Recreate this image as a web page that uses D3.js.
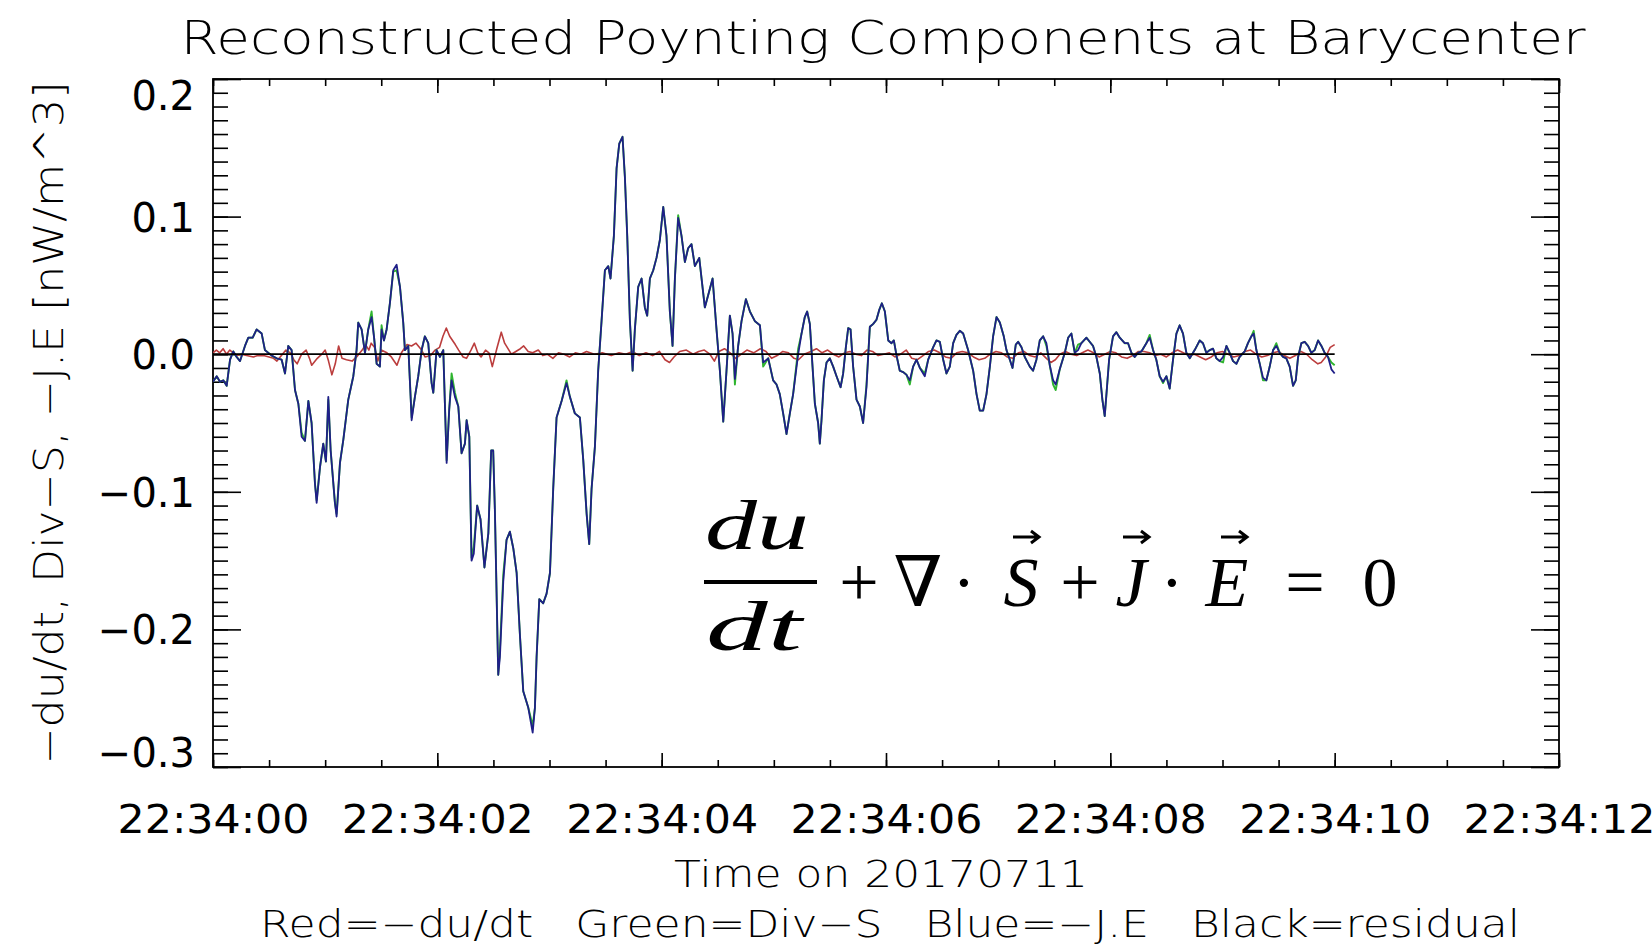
<!DOCTYPE html>
<html>
<head>
<meta charset="utf-8">
<script src="https://cdn.jsdelivr.net/npm/d3@7"></script>
<style>
  html, body { margin: 0; padding: 0; background: #fff; overflow: hidden; }
  svg { display: block; }
</style>
</head>
<body>
<svg id="chart" width="1652" height="947"></svg>
<script>
// Seconds after 22:34:00 UT on 2017-07-11
const sampleTimes = [
  0.000,0.033,0.062,0.092,0.122,0.152,0.181,0.211,0.241,0.285,0.315,0.354,0.389,0.434,0.463,0.493,0.523,0.567,0.612,0.642,
  0.671,0.701,0.731,0.761,0.790,0.820,0.850,0.879,0.909,0.924,0.954,0.983,1.007,1.028,1.049,1.087,1.102,1.132,1.162,1.206,
  1.251,1.280,1.295,1.325,1.355,1.384,1.414,1.435,1.459,1.488,1.503,1.524,1.548,1.577,1.607,1.637,1.667,1.696,1.711,1.741,
  1.771,1.800,1.830,1.860,1.889,1.919,1.949,1.964,1.993,2.023,2.053,2.083,2.106,2.127,2.157,2.187,2.216,2.246,2.261,2.285,
  2.305,2.325,2.355,2.385,2.420,2.455,2.480,2.498,2.513,2.543,2.558,2.588,2.617,2.647,2.677,2.707,2.737,2.766,2.811,2.850,
  2.870,2.885,2.909,2.944,2.974,3.004,3.033,3.063,3.108,3.152,3.182,3.226,3.271,3.301,3.331,3.354,3.375,3.405,3.434,3.464,
  3.494,3.524,3.544,3.574,3.598,3.622,3.651,3.672,3.693,3.717,3.741,3.761,3.791,3.821,3.850,3.871,3.895,3.925,3.954,3.984,
  4.014,4.043,4.073,4.097,4.118,4.147,4.177,4.207,4.236,4.266,4.296,4.335,4.364,4.385,4.415,4.454,4.489,4.519,4.549,4.578,
  4.608,4.632,4.653,4.682,4.712,4.751,4.787,4.831,4.876,4.905,4.950,4.994,5.024,5.053,5.083,5.113,5.143,5.172,5.217,5.247,
  5.276,5.297,5.321,5.345,5.366,5.395,5.410,5.425,5.446,5.470,5.499,5.529,5.559,5.595,5.618,5.642,5.663,5.684,5.707,5.737,
  5.767,5.796,5.826,5.856,5.886,5.915,5.939,5.963,5.990,6.020,6.049,6.070,6.094,6.123,6.153,6.183,6.212,6.242,6.272,6.302,
  6.346,6.376,6.420,6.450,6.480,6.510,6.539,6.569,6.599,6.628,6.658,6.688,6.732,6.777,6.807,6.836,6.866,6.896,6.926,6.955,
  6.985,7.015,7.050,7.074,7.104,7.128,7.157,7.178,7.208,7.237,7.282,7.311,7.341,7.371,7.401,7.430,7.460,7.490,7.513,7.549,
  7.594,7.624,7.653,7.683,7.712,7.742,7.787,7.816,7.846,7.876,7.906,7.929,7.950,7.971,7.989,8.024,8.054,8.084,8.128,8.158,
  8.188,8.217,8.247,8.277,8.321,8.351,8.381,8.410,8.440,8.470,8.500,8.529,8.559,8.589,8.618,8.648,8.678,8.708,8.752,8.797,
  8.826,8.856,8.886,8.916,8.945,8.975,9.005,9.035,9.064,9.094,9.124,9.153,9.198,9.227,9.257,9.278,9.302,9.332,9.361,9.391,
  9.421,9.451,9.480,9.510,9.540,9.569,9.599,9.629,9.653,9.674,9.703,9.733,9.763,9.792,9.822,9.852,9.882,9.911,9.941,9.971,
  10.000
];

// Blue = -J.E  [nW/m^3]
const blueJE = [
  -0.020,-0.016,-0.020,-0.019,-0.023,-0.004,0.002,-0.002,-0.005,0.006,0.012,0.012,0.018,0.015,0.003,0.001,-0.001,-0.003,-0.004,-0.014,
  0.006,0.003,-0.026,-0.036,-0.060,-0.063,-0.034,-0.050,-0.094,-0.108,-0.082,-0.065,-0.078,-0.031,-0.070,-0.108,-0.118,-0.079,-0.062,-0.033,
  -0.016,0.003,0.023,0.018,0.001,0.018,0.027,0.013,-0.007,-0.009,0.018,0.010,0.018,0.037,0.061,0.065,0.049,0.023,0.003,0.006,
  -0.048,-0.031,-0.016,0.003,0.013,0.008,-0.021,-0.028,0.003,-0.002,0.003,-0.079,-0.040,-0.019,-0.031,-0.038,-0.072,-0.065,-0.048,-0.060,
  -0.150,-0.145,-0.110,-0.120,-0.155,-0.130,-0.070,-0.070,-0.113,-0.233,-0.220,-0.165,-0.135,-0.129,-0.141,-0.159,-0.205,-0.245,-0.257,-0.275,
  -0.257,-0.220,-0.178,-0.181,-0.174,-0.159,-0.098,-0.046,-0.034,-0.021,-0.031,-0.043,-0.046,-0.077,-0.116,-0.138,-0.098,-0.067,-0.012,0.024,
  0.061,0.064,0.055,0.086,0.135,0.153,0.158,0.129,0.086,0.024,-0.012,0.018,0.049,0.055,0.034,0.028,0.055,0.061,0.070,0.083,
  0.107,0.086,0.031,0.006,0.055,0.099,0.086,0.067,0.077,0.080,0.064,0.070,0.049,0.034,0.043,0.055,0.018,-0.012,-0.049,-0.012,
  0.028,0.015,-0.018,0.006,0.024,0.040,0.031,0.024,0.021,-0.006,-0.003,-0.019,-0.022,-0.029,-0.043,-0.058,-0.043,-0.029,0.000,0.015,
  0.027,0.031,0.022,-0.009,-0.036,-0.050,-0.065,-0.048,-0.019,-0.006,-0.003,-0.009,-0.016,-0.024,-0.014,0.005,0.019,0.018,-0.009,-0.033,
  -0.038,-0.050,-0.024,0.020,0.022,0.025,0.032,0.037,0.031,0.010,0.008,0.010,-0.001,-0.012,-0.013,-0.015,-0.019,-0.009,-0.004,-0.010,
  -0.016,-0.004,0.005,0.010,0.009,-0.004,-0.014,-0.009,0.008,0.014,0.017,0.015,0.003,-0.012,-0.029,-0.041,-0.041,-0.029,-0.009,0.013,
  0.027,0.023,0.013,0.003,-0.004,-0.010,0.007,0.009,0.005,-0.002,-0.009,-0.012,-0.004,0.010,0.013,0.008,-0.008,-0.019,-0.022,-0.011,
  0.001,0.012,0.015,0.001,0.003,0.008,0.012,0.009,0.006,-0.002,-0.014,-0.033,-0.045,-0.023,-0.004,0.013,0.016,0.012,0.008,0.008,
  0.001,-0.002,0.001,0.002,0.008,0.012,0.003,-0.004,-0.016,-0.020,-0.016,-0.025,-0.004,0.015,0.021,0.015,0.001,-0.003,0.003,0.010,
  0.008,0.001,0.003,0.004,-0.003,-0.005,-0.002,0.006,0.001,-0.005,-0.007,-0.002,0.002,0.008,0.013,0.015,0.003,-0.007,-0.017,-0.019,
  -0.009,0.003,0.006,0.001,-0.002,-0.003,-0.009,-0.023,-0.019,-0.002,0.008,0.009,0.006,0.001,0.003,0.010,0.006,0.001,-0.002,-0.011,
  -0.014
];

// Green = Div-S  [nW/m^3]
const greenDivS = [
  -0.020,-0.016,-0.020,-0.019,-0.023,-0.004,0.002,-0.002,-0.005,0.006,0.012,0.012,0.018,0.015,0.003,0.001,-0.001,-0.003,-0.004,-0.014,
  0.006,0.003,-0.026,-0.036,-0.057,-0.063,-0.034,-0.050,-0.094,-0.106,-0.082,-0.065,-0.078,-0.033,-0.070,-0.108,-0.116,-0.079,-0.062,-0.033,
  -0.016,0.003,0.023,0.018,0.001,0.018,0.031,0.013,-0.007,-0.009,0.021,0.010,0.018,0.037,0.060,0.061,0.049,0.023,0.003,0.006,
  -0.046,-0.031,-0.016,0.003,0.013,0.008,-0.021,-0.028,0.003,-0.002,0.003,-0.077,-0.040,-0.014,-0.028,-0.038,-0.072,-0.065,-0.048,-0.060,
  -0.148,-0.140,-0.110,-0.120,-0.155,-0.130,-0.070,-0.070,-0.113,-0.233,-0.215,-0.160,-0.135,-0.129,-0.141,-0.159,-0.205,-0.245,-0.257,-0.270,
  -0.257,-0.220,-0.178,-0.181,-0.174,-0.159,-0.098,-0.046,-0.034,-0.019,-0.031,-0.043,-0.046,-0.077,-0.116,-0.138,-0.098,-0.067,-0.012,0.024,
  0.061,0.064,0.055,0.086,0.135,0.153,0.158,0.129,0.086,0.024,-0.012,0.018,0.049,0.055,0.034,0.028,0.055,0.061,0.070,0.083,
  0.107,0.086,0.031,0.006,0.055,0.101,0.086,0.067,0.077,0.080,0.064,0.070,0.049,0.034,0.043,0.055,0.018,-0.012,-0.049,-0.012,
  0.028,0.015,-0.022,0.006,0.024,0.040,0.031,0.024,0.021,-0.009,-0.003,-0.019,-0.022,-0.029,-0.043,-0.058,-0.043,-0.029,0.004,0.015,
  0.027,0.031,0.022,-0.009,-0.036,-0.050,-0.065,-0.048,-0.019,-0.006,-0.003,-0.009,-0.016,-0.024,-0.014,0.005,0.019,0.018,-0.009,-0.033,
  -0.038,-0.050,-0.022,0.020,0.022,0.025,0.032,0.037,0.031,0.010,0.008,0.010,-0.001,-0.012,-0.013,-0.015,-0.022,-0.009,-0.004,-0.010,
  -0.014,-0.004,0.005,0.010,0.009,-0.004,-0.014,-0.009,0.008,0.014,0.017,0.015,0.003,-0.012,-0.029,-0.041,-0.041,-0.029,-0.009,0.013,
  0.027,0.023,0.013,0.003,-0.004,-0.010,0.007,0.009,0.005,-0.002,-0.009,-0.012,-0.004,0.010,0.013,0.006,-0.008,-0.022,-0.026,-0.011,
  0.001,0.012,0.015,0.001,0.007,0.008,0.012,0.009,0.006,-0.002,-0.014,-0.033,-0.045,-0.023,-0.004,0.013,0.016,0.012,0.008,0.008,
  0.001,-0.002,0.001,0.002,0.008,0.014,0.003,-0.004,-0.016,-0.021,-0.016,-0.025,-0.004,0.015,0.021,0.015,0.001,-0.003,0.003,0.010,
  0.008,0.001,0.003,0.004,-0.003,-0.005,-0.006,0.006,0.001,-0.005,-0.007,-0.002,0.002,0.008,0.013,0.017,0.003,-0.007,-0.019,-0.019,
  -0.009,0.003,0.008,0.001,-0.002,-0.003,-0.009,-0.023,-0.019,-0.002,0.008,0.009,0.006,0.001,0.003,0.010,0.006,0.001,-0.002,-0.006,
  -0.008
];

// Red = -du/dt  [nW/m^3]
const redTimes = [
  0.00,0.03,0.06,0.09,0.12,0.15,0.18,0.21,0.25,0.30,0.36,0.40,0.45,0.50,0.54,0.57,0.61,0.65,0.69,0.72,
  0.75,0.79,0.83,0.86,0.88,0.93,0.97,1.00,1.03,1.06,1.09,1.12,1.15,1.19,1.24,1.28,1.33,1.36,1.39,1.41,
  1.44,1.47,1.50,1.55,1.59,1.64,1.68,1.73,1.77,1.81,1.86,1.89,1.94,1.98,2.02,2.05,2.08,2.11,2.16,2.19,
  2.23,2.26,2.30,2.33,2.36,2.39,2.43,2.46,2.49,2.53,2.57,2.60,2.63,2.66,2.70,2.74,2.77,2.81,2.85,2.90,
  2.94,2.98,3.03,3.08,3.13,3.18,3.23,3.28,3.33,3.40,3.47,3.55,3.62,3.68,3.74,3.80,3.86,3.92,3.98,4.03,
  4.07,4.11,4.16,4.22,4.28,4.33,4.38,4.43,4.47,4.51,4.56,4.61,4.66,4.71,4.76,4.82,4.88,4.93,4.98,5.03,
  5.08,5.13,5.18,5.22,5.27,5.33,5.38,5.43,5.48,5.53,5.58,5.63,5.68,5.73,5.78,5.83,5.88,5.93,5.98,6.03,
  6.08,6.13,6.18,6.23,6.28,6.33,6.38,6.43,6.48,6.53,6.58,6.63,6.68,6.73,6.78,6.83,6.88,6.93,6.98,7.03,
  7.08,7.13,7.18,7.23,7.28,7.33,7.38,7.43,7.47,7.51,7.55,7.60,7.65,7.70,7.75,7.80,7.85,7.90,7.95,8.00,
  8.05,8.10,8.15,8.20,8.25,8.30,8.35,8.40,8.45,8.50,8.55,8.60,8.65,8.70,8.75,8.80,8.85,8.90,8.95,9.00,
  9.05,9.10,9.15,9.20,9.25,9.30,9.35,9.40,9.45,9.50,9.55,9.60,9.65,9.70,9.75,9.80,9.85,9.88,9.92,9.96,
  10.00
];
const redDuDt = [
  0.001,0.003,0.001,0.004,0.000,0.003,0.001,-0.001,0.000,-0.001,-0.002,-0.001,-0.001,-0.002,-0.003,-0.005,-0.001,0.003,0.001,-0.004,
  -0.007,0.000,0.003,-0.003,-0.008,-0.003,0.000,0.003,-0.005,-0.015,-0.007,0.006,-0.003,-0.004,-0.005,-0.002,0.003,0.007,0.003,0.008,
  0.005,-0.005,0.003,0.001,-0.002,-0.008,0.001,0.007,0.006,0.008,0.003,-0.002,-0.001,0.003,0.005,0.013,0.019,0.013,0.007,0.003,
  -0.002,-0.003,0.003,0.008,0.001,-0.002,0.003,0.001,-0.009,0.004,0.016,0.008,0.004,0.000,0.002,0.004,0.006,0.002,0.001,0.003,
  -0.001,0.000,-0.003,0.001,0.000,-0.002,0.001,0.000,0.002,0.000,0.001,-0.001,0.001,0.000,0.002,-0.001,0.001,-0.001,0.002,-0.004,
  -0.006,-0.002,0.002,0.003,0.000,0.002,0.003,0.000,-0.005,0.002,0.004,0.001,-0.003,0.000,0.003,0.001,0.004,0.002,-0.003,-0.001,
  0.002,0.001,-0.003,-0.004,0.000,0.002,0.004,0.001,0.003,0.000,-0.002,0.001,0.002,0.000,-0.001,0.003,0.002,-0.001,0.000,0.001,
  -0.002,0.000,0.003,-0.003,-0.004,-0.001,0.002,0.003,0.001,-0.002,-0.003,0.001,0.002,0.001,-0.002,-0.004,-0.003,0.000,0.002,0.001,
  -0.002,-0.003,0.001,0.002,-0.001,-0.002,0.001,-0.003,-0.006,-0.004,0.000,0.002,0.000,-0.001,0.001,0.003,0.001,-0.002,0.000,0.002,
  0.001,-0.002,-0.003,-0.001,0.002,0.002,0.001,-0.001,0.000,-0.002,0.001,0.003,0.001,-0.001,0.000,-0.002,-0.004,-0.002,0.001,0.002,
  0.000,-0.002,-0.001,0.002,0.003,0.000,-0.002,-0.001,0.001,0.002,-0.001,-0.003,-0.001,0.002,0.000,-0.004,-0.007,-0.006,-0.002,0.005,
  0.007
];

// Black = residual
const residualTimes = [0, 2.5, 5, 7.5, 10];
const residual = [0, 0, 0, 0, 0];

const yTickValues = [-0.3, -0.2, -0.1, 0.0, 0.1, 0.2];
const xTickSeconds = [0, 2, 4, 6, 8, 10, 12];
const startTime = Date.UTC(2017, 6, 11, 22, 34, 0);

const titleText = "Reconstructed Poynting Components at Barycenter";
const yTitleText = "\u2212du/dt, Div\u2212S, \u2212J.E [nW/m^3]";
const xTitleText = "Time on 20170711";
const keyText = "Red=\u2212du/dt   Green=Div\u2212S   Blue=\u2212J.E   Black=residual";

// ---------------------------------------------------------------------------
const SANS = '"DejaVu Sans", "Liberation Sans", sans-serif';
const SERIF = '"Liberation Serif", "DejaVu Serif", serif';

const svg = d3.select("#chart");
const plot = { left: 213, right: 1559, top: 79, bottom: 767 };

const toDate = s => new Date(startTime + s * 1000);
const x = d3.scaleUtc().domain([toDate(0), toDate(12)]).range([plot.left, plot.right]);
const y = d3.scaleLinear().domain([-0.3, 0.2]).range([plot.bottom, plot.top]);

const majorX = xTickSeconds.map(toDate);
const minorX = x.ticks(d3.utcMillisecond.every(500));
const minorY = y.ticks(50);
const timeFmt = d3.utcFormat("%H:%M:%S");

function styleAxis(g) {
  g.select(".domain").remove();
  g.selectAll(".tick line").attr("stroke", "#000").attr("stroke-width", 1.6);
}

// bottom / top axes (ticks point into the box)
svg.append("g").attr("transform", `translate(0,${plot.bottom})`)
  .call(d3.axisBottom(x).tickValues(minorX).tickSize(-7).tickFormat(""))
  .call(styleAxis);
const xAxisG = svg.append("g").attr("transform", `translate(0,${plot.bottom})`)
  .call(d3.axisBottom(x).tickValues(majorX).tickSize(-14).tickFormat(timeFmt))
  .call(styleAxis);
xAxisG.selectAll(".tick text")
  .attr("y", 66).attr("dy", 0)
  .style("font-family", SANS)
  .style("font-size", "39px")
  .attr("textLength", 192).attr("lengthAdjust", "spacingAndGlyphs")
  .attr("fill", "#000");

svg.append("g").attr("transform", `translate(0,${plot.top})`)
  .call(d3.axisTop(x).tickValues(minorX).tickSize(-7).tickFormat(""))
  .call(styleAxis);
svg.append("g").attr("transform", `translate(0,${plot.top})`)
  .call(d3.axisTop(x).tickValues(majorX).tickSize(-14).tickFormat(""))
  .call(styleAxis);

// left / right axes
svg.append("g").attr("transform", `translate(${plot.left},0)`)
  .call(d3.axisLeft(y).tickValues(minorY).tickSize(-15).tickFormat(""))
  .call(styleAxis);
const yAxisG = svg.append("g").attr("transform", `translate(${plot.left},0)`)
  .call(d3.axisLeft(y).tickValues(yTickValues).tickSize(-28).tickFormat(d3.format(".1f")).tickPadding(18))
  .call(styleAxis);
const labelHalf = 15;
yAxisG.selectAll(".tick text")
  .style("font-family", SANS)
  .style("font-size", "40px")
  .attr("fill", "#000")
  .attr("dy", "0.36em")
  .attr("y", d => {
    const py = y(d);
    const cy = Math.max(plot.top + labelHalf + 1, Math.min(plot.bottom - labelHalf, py));
    return cy - py;
  });

svg.append("g").attr("transform", `translate(${plot.right},0)`)
  .call(d3.axisRight(y).tickValues(minorY).tickSize(-15).tickFormat(""))
  .call(styleAxis);
svg.append("g").attr("transform", `translate(${plot.right},0)`)
  .call(d3.axisRight(y).tickValues(yTickValues).tickSize(-28).tickFormat(""))
  .call(styleAxis);

// frame
svg.append("rect")
  .attr("x", plot.left).attr("y", plot.top)
  .attr("width", plot.right - plot.left).attr("height", plot.bottom - plot.top)
  .attr("fill", "none").attr("stroke", "#000").attr("stroke-width", 1.8);

// traces
svg.append("defs").append("clipPath").attr("id", "plotClip")
  .append("rect").attr("x", plot.left).attr("y", plot.top)
  .attr("width", plot.right - plot.left).attr("height", plot.bottom - plot.top);

const line = d3.line().x(d => x(toDate(d[0]))).y(d => y(d[1]));
const traces = svg.append("g").attr("clip-path", "url(#plotClip)")
  .attr("fill", "none").attr("stroke-linejoin", "round");

const series = [
  { t: redTimes, v: redDuDt, color: "#bb3d3d", w: 1.6 },
  { t: sampleTimes, v: greenDivS, color: "#2fb52f", w: 1.9 },
  { t: sampleTimes, v: blueJE, color: "#1f1f88", w: 1.8 },
  { t: residualTimes, v: residual, color: "#000000", w: 1.8 }
];
series.forEach(s => {
  traces.append("path")
    .datum(s.t.map((t, i) => [t, s.v[i]]))
    .attr("d", line)
    .attr("stroke", s.color)
    .attr("stroke-width", s.w);
});

// titles
function label(str, opts) {
  const t = svg.append("text")
    .attr("text-anchor", "middle")
    .style("font-family", SANS)
    .style("font-size", opts.size + "px")
    .style("font-weight", opts.weight || 400)
    .style("white-space", "pre")
    .attr("fill", "#000")
    .attr("textLength", opts.len).attr("lengthAdjust", "spacingAndGlyphs")
    .text(str);
  if (opts.transform) t.attr("transform", opts.transform);
  else t.attr("x", opts.x).attr("y", opts.y);
  return t;
}
label(titleText, { x: 883, y: 54, size: 47, weight: 200, len: 1405 });
label(yTitleText, { transform: "translate(63,423) rotate(-90)", size: 41, weight: 300, len: 683 });
label(xTitleText, { x: 881, y: 887, size: 38, weight: 300, len: 414 });
label(keyText, { x: 890, y: 937, size: 37, weight: 300, len: 1260 });

// Poynting theorem annotation
const eq = svg.append("g");
const eqBase = 606;
function eqText(str, cx, by, italic, len) {
  const t = eq.append("text").attr("x", cx).attr("y", by).attr("text-anchor", "middle")
    .style("font-family", SERIF).style("font-size", "70px")
    .style("font-style", italic ? "italic" : "normal")
    .attr("fill", "#000").text(str);
  if (len) t.attr("textLength", len).attr("lengthAdjust", "spacingAndGlyphs");
  return t;
}
function vecArrow(cx, ay) {
  eq.append("path")
    .attr("d", `M${cx - 13},${ay} L${cx + 12},${ay} M${cx + 5},${ay - 6} L${cx + 13},${ay} L${cx + 5},${ay + 6}`)
    .attr("fill", "none").attr("stroke", "#000").attr("stroke-width", 3);
}
eqText("du", 757, 549, true, 104);
eq.append("line").attr("x1", 704).attr("x2", 817).attr("y1", 582).attr("y2", 582)
  .attr("stroke", "#000").attr("stroke-width", 4);
eqText("dt", 754, 650, true, 96);
eqText("+", 859, eqBase, false);
eqText("\u2207", 918, eqBase, false);
eqText("\u00B7", 964, eqBase, false);
eqText("S", 1021, eqBase, true);
vecArrow(1026, 537);
eqText("+", 1080, eqBase, false);
eqText("J", 1131, eqBase, true);
vecArrow(1136, 537);
eqText("\u00B7", 1172, eqBase, false);
eqText("E", 1227, eqBase, true);
vecArrow(1234, 537);
eqText("=", 1305, eqBase, false);
eqText("0", 1380, eqBase, false);
</script>
</body>
</html>
